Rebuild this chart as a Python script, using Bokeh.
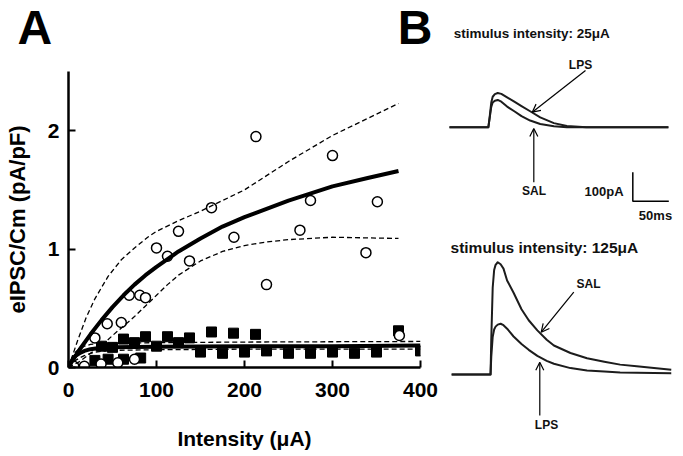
from bokeh.plotting import figure
from bokeh.models import Range1d, FixedTicker, Label, Arrow, OpenHead
from bokeh.layouts import row, column
from bokeh.embed import file_html
from bokeh.resources import INLINE

FONT = "Liberation Sans"

# ---------------- Panel A data ----------------
x_ticks = [0, 100, 200, 300, 400]
y_ticks = [0, 1, 2]
panel_letters = ["A", "B"]

sal_x = [6, 18, 37, 56, 75, 30, 44, 60, 69, 81, 87.5, 100, 112.5, 125, 137.5,
         162.5, 188, 213, 225, 263, 275, 300, 338, 351, 376]
sal_y = [0.01, 0.01, 0.03, 0.04, 0.07, 0.25, 0.37, 0.38, 0.61, 0.61, 0.59, 1.01,
         0.94, 1.15, 0.90, 1.35, 1.10, 1.95, 0.70, 1.16, 1.41, 1.79, 0.97, 1.40, 0.27]

lps_x = [62.5, 87.5, 112.5, 137.5, 162.5, 187.5, 212.5, 375,
         37.5, 50, 75, 100, 125,
         150, 175, 200, 225, 250, 275, 300, 325, 350, 400,
         30, 45, 62.5, 82]
lps_y = [0.24, 0.26, 0.26, 0.25, 0.30, 0.29, 0.28, 0.31,
         0.18, 0.17, 0.21, 0.18, 0.21,
         0.13, 0.12, 0.13, 0.14, 0.12, 0.12, 0.13, 0.12, 0.13, 0.14,
         0.06, 0.07, 0.07, 0.08]

# fitted curves
sal_fit_x = [0, 3, 6, 12.5, 25, 37.5, 50, 62.5, 75, 87.5, 100, 125, 150, 175, 200, 250, 300, 340, 375]
sal_fit_y = [0, 0.04, 0.075, 0.15, 0.28, 0.40, 0.51, 0.61, 0.70, 0.78, 0.85, 0.98, 1.09, 1.19, 1.27, 1.41, 1.53, 1.60, 1.66]
sal_hi_x = [0, 10, 20, 30, 45, 60, 75, 90, 100, 125, 150, 175, 200, 250, 300, 375]
sal_hi_y = [0, 0.22, 0.42, 0.58, 0.77, 0.91, 1.01, 1.10, 1.15, 1.24, 1.32, 1.41, 1.50, 1.74, 1.96, 2.23]
sal_lo_x = [0, 12.5, 25, 40, 50, 62.5, 75, 87.5, 100, 112.5, 125, 150, 175, 200, 225, 250, 300, 375]
sal_lo_y = [0, 0.05, 0.12, 0.20, 0.27, 0.35, 0.43, 0.52, 0.61, 0.70, 0.78, 0.90, 0.98, 1.03, 1.06, 1.08, 1.10, 1.09]

lps_fit_x = [0, 2, 5, 8, 12.5, 18, 25, 35, 50, 100, 200, 300, 400]
lps_fit_y = [0, 0.035, 0.07, 0.10, 0.12, 0.14, 0.155, 0.165, 0.17, 0.175, 0.18, 0.18, 0.185]
lps_hi_x = [0, 2, 5, 8, 12.5, 18, 25, 35, 50, 100, 200, 400]
lps_hi_y = [0, 0.05, 0.10, 0.13, 0.16, 0.18, 0.195, 0.20, 0.205, 0.21, 0.215, 0.22]
lps_lo_x = [0, 2, 5, 8, 12.5, 18, 25, 35, 50, 100, 200, 400]
lps_lo_y = [0, 0.02, 0.04, 0.06, 0.08, 0.10, 0.12, 0.135, 0.145, 0.15, 0.155, 0.155]

# ---------------- Panel B data (ms, pA) ----------------
t_25 = [0, 30, 54, 56, 58, 60, 63, 67, 72, 80, 90, 100, 112, 126, 145, 163, 190, 240, 304]
lps_25 = [0, 0, 0, 40, 85, 105, 114, 118, 115, 103, 88, 73, 55, 34, 14, 4, 0, 0, 0]
sal_25 = [0, 0, 0, 35, 70, 85, 91, 94, 88, 71, 55, 38, 23, 11, 3.5, 0, 0, 0, 0]

t_125 = [3, 30, 57, 58, 60, 62, 64, 67, 71, 75, 80, 89, 100, 110, 122, 135, 145,
         168, 191, 215, 237, 260, 284, 308]
sal_125 = [0, 0, 0, 120, 300, 360, 378, 387, 380, 365, 324, 282, 225, 187, 152, 120,
           100, 74, 56, 44, 34, 28, 22, 16]
lps_125 = [0, 0, 0, 60, 130, 155, 165, 172, 175, 170, 158, 131, 105, 85, 64, 47, 37,
           22, 14, 10, 7, 6, 5, 4.5]

scale_t = 50     # ms
scale_i = 100    # pA

# ---------------- Panel A ----------------
pA = figure(width=440, height=456, x_range=Range1d(0, 400), y_range=Range1d(0, 2.5),
            output_backend="svg", toolbar_location=None,
            min_border_left=68, min_border_right=20, min_border_top=71, min_border_bottom=89)
pA.grid.visible = False
pA.outline_line_color = None
pA.background_fill_color = "white"
pA.border_fill_color = "white"

# panel letters "A" ... "B" as one title line (em spaces keep the gap);
# a blank second line lifts the letters towards the top of the page
pA.title.text = panel_letters[0] + "\u2003" * 7 + "\u2009" + panel_letters[1] + "\n\u2003"
pA.title.align = "left"
pA.title.vertical_align = "top"
pA.title.offset = -51
pA.title.standoff = 0
pA.title.text_line_height = 0.3
pA.title.text_font = FONT
pA.title.text_font_style = "bold"
pA.title.text_font_size = "48px"
pA.title.text_color = "black"

for ax in (pA.xaxis[0], pA.yaxis[0]):
    ax.axis_line_width = 2.5
    ax.axis_line_color = "black"
    ax.major_tick_in = 7
    ax.major_tick_out = 0
    ax.major_tick_line_width = 2
    ax.major_tick_line_color = "black"
    ax.minor_tick_line_color = None
    ax.major_label_text_font = FONT
    ax.major_label_text_font_style = "bold"
    ax.major_label_text_font_size = "21px"
    ax.major_label_text_color = "black"
    ax.axis_label_text_font = FONT
    ax.axis_label_text_font_style = "bold"
    ax.axis_label_text_color = "black"

pA.xaxis[0].ticker = FixedTicker(ticks=x_ticks)
pA.yaxis[0].ticker = FixedTicker(ticks=y_ticks)
pA.xaxis[0].axis_label = "Intensity (μA)"
pA.xaxis[0].axis_label_text_font_size = "21px"
pA.xaxis[0].major_label_standoff = 15
pA.xaxis[0].axis_label_standoff = 27
pA.yaxis[0].axis_label = "eIPSC/Cm (pA/pF)"
pA.yaxis[0].axis_label_text_font_size = "22px"
pA.yaxis[0].major_label_standoff = 9
pA.yaxis[0].axis_label_standoff = 15

pA.scatter(lps_x, lps_y, marker="square", size=10, fill_color="black", line_color="black")
pA.scatter(sal_x, sal_y, marker="circle", size=10, fill_color="white",
           line_color="black", line_width=1.5)

pA.line(sal_fit_x, sal_fit_y, line_width=4, line_color="black", line_join="round")
pA.line(sal_hi_x, sal_hi_y, line_width=1.3, line_color="black", line_dash="5 3")
pA.line(sal_lo_x, sal_lo_y, line_width=1.3, line_color="black", line_dash="5 3")
pA.line(lps_fit_x, lps_fit_y, line_width=4, line_color="black", line_join="round")
pA.line(lps_hi_x, lps_hi_y, line_width=1.3, line_color="black", line_dash="5 3")
pA.line(lps_lo_x, lps_lo_y, line_width=1.3, line_color="black", line_dash="5 3")

# ---------------- Panel B ----------------
pB = figure(width=243, height=456, x_range=Range1d(-12.5, 325), y_range=Range1d(0, 1572.4),
            output_backend="svg", toolbar_location=None, x_axis_type=None, y_axis_type=None,
            min_border_left=0, min_border_right=0, min_border_top=0, min_border_bottom=0)
pB.grid.visible = False
pB.outline_line_color = None
pB.background_fill_color = "white"
pB.border_fill_color = "white"

TOP_BASE = 1135.5
BOT_BASE = 282.8

trace_col = "#1c1c1c"
pB.line(t_25, [TOP_BASE + v for v in sal_25], line_width=2, line_color=trace_col, line_join="round")
pB.line(t_25, [TOP_BASE + v for v in lps_25], line_width=2, line_color=trace_col, line_join="round")
pB.line(t_125, [BOT_BASE + v for v in sal_125], line_width=2, line_color=trace_col, line_join="round")
pB.line(t_125, [BOT_BASE + v for v in lps_125], line_width=2, line_color=trace_col, line_join="round")

# scale bar
sb_t0, sb_i0 = 254.6, 880.3
pB.line([sb_t0, sb_t0, sb_t0 + scale_t], [sb_i0 + scale_i, sb_i0, sb_i0],
        line_width=1.5, line_color="black")

def lab(x, y, text, size="12px", align="center", baseline="middle"):
    pB.add_layout(Label(x=x, y=y, text=text, text_font=FONT, text_font_style="bold",
                        text_font_size=size, text_color="#111111", text_align=align,
                        text_baseline=baseline))

lab(6, 1457.6, "stimulus intensity: 25μA", size="13.5px", align="left", baseline="alphabetic")
lab(1.4, 722.4, "stimulus intensity: 125μA", size="15.5px", align="left", baseline="alphabetic")
lab(181.9, 1351.7, "LPS")
lab(117.4, 913.8, "SAL")
lab(193.1, 593.1, "SAL")
lab(134.7, 110.3, "LPS")
lab(241.7, 913.8, "%dpA" % scale_i, size="13px", align="right")
lab(286.1, 831, "%dms" % scale_t, size="13px")

def arrow(x0, y0, x1, y1):
    pB.add_layout(Arrow(end=OpenHead(size=8, line_width=1.2, line_color="black"),
                        x_start=x0, y_start=y0, x_end=x1, y_end=y1,
                        line_width=1.2, line_color="black"))

arrow(188.9, 1331, 114.9, 1187.2)
arrow(117.1, 945.9, 117.1, 1131)
arrow(172.6, 566.6, 127.4, 428.6)
arrow(125.4, 141.4, 125.4, 325.2)

layout = row(pA, column(pB))
open("out.html", "w").write(file_html(layout, INLINE))
